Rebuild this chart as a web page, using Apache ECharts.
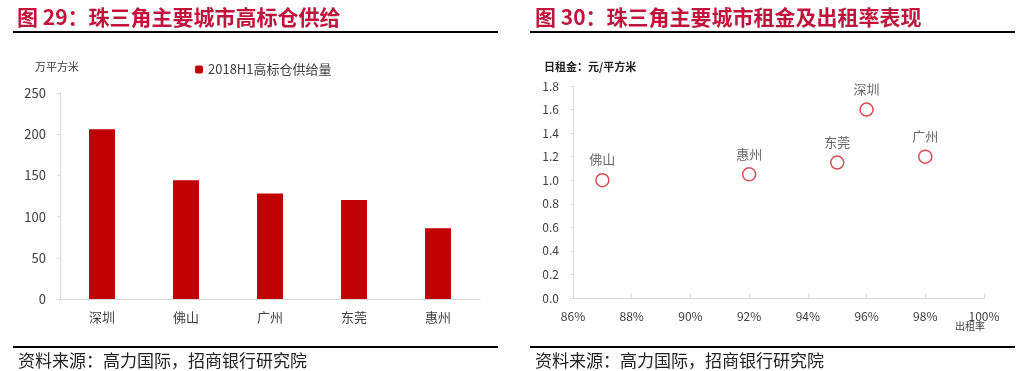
<!DOCTYPE html>
<html><head><meta charset="utf-8">
<script src="https://cdn.jsdelivr.net/npm/echarts@6/dist/echarts.min.js"></script>
<style>html,body{margin:0;padding:0;background:#fff}#c{width:1030px;height:371px}</style>
</head><body><div id="c"></div>
<script>
// Left chart: 2018H1 high-standard warehouse supply
const barCities = ['深圳','佛山','广州','东莞','惠州'];
const barValues = [206, 144, 128, 120, 86];
const barSeriesName = '2018H1高标仓供给量';
const barYTicks = [0, 50, 100, 150, 200, 250];

// Right chart: rent vs occupancy
const scCities = ['佛山','惠州','东莞','深圳','广州'];
const scOccupancy = [87, 92, 95, 96, 98];   // %
const scRent = [1.0, 1.05, 1.15, 1.6, 1.2];  // yuan / sqm / day

const titleL = '图 29：珠三角主要城市高标仓供给';
const titleR = '图 30：珠三角主要城市租金及出租率表现';
const source = '资料来源：高力国际，招商银行研究院';

const FONT = '"Noto Sans CJK SC","Noto Sans",sans-serif';
const RED_T = '#C0143C';
const AX = '#d9d9d9';
const LBL = '#404040';

const chart = echarts.init(document.getElementById('c'), null, {renderer:'canvas'});
chart.setOption({
  backgroundColor:'#fff',
  animation:false,
  textStyle:{fontFamily:FONT},
  legend:{
    left:190, top:58, itemWidth:8, itemHeight:8, itemGap:4,
    textStyle:{fontSize:13, color:LBL, fontFamily:FONT},
    data:[barSeriesName]
  },
  grid:[
    {left:60, right:550, top:93, bottom:72},
    {left:573, right:46, top:86, bottom:73}
  ],
  xAxis:[
    {gridIndex:0, type:'category', data:barCities,
     axisLine:{lineStyle:{color:AX}}, axisTick:{show:false},
     axisLabel:{fontSize:13, color:LBL, margin:12, fontFamily:FONT}},
    {gridIndex:1, type:'value', min:86, max:100, interval:2,
     axisLine:{lineStyle:{color:AX}}, axisTick:{inside:true, length:4, lineStyle:{color:AX}},
     splitLine:{show:false},
     axisLabel:{fontSize:12, color:LBL, margin:12, formatter:v=>v+'%', fontFamily:FONT}}
  ],
  yAxis:[
    {gridIndex:0, type:'value', min:barYTicks[0], max:barYTicks[barYTicks.length-1], interval:50,
     axisLine:{show:true, lineStyle:{color:AX}}, axisTick:{show:true, length:3, lineStyle:{color:AX}},
     splitLine:{show:false},
     axisLabel:{fontSize:13, color:LBL, margin:14, fontFamily:FONT}},
    {gridIndex:1, type:'value', min:0, max:1.8, interval:0.2,
     axisLine:{show:true, lineStyle:{color:AX}}, axisTick:{show:true, length:3, lineStyle:{color:AX}},
     splitLine:{show:false},
     axisLabel:{fontSize:12, color:LBL, margin:14, formatter:v=>v.toFixed(1), fontFamily:FONT}}
  ],
  series:[
    {type:'bar', name:barSeriesName, xAxisIndex:0, yAxisIndex:0, data:barValues,
     barWidth:26, itemStyle:{color:'#C00000'}},
    {type:'scatter', xAxisIndex:1, yAxisIndex:1, symbol:'circle', symbolSize:13,
     itemStyle:{color:'#fff', borderColor:'#D0202A', borderWidth:1.5},
     label:{show:true, position:'top', distance:7, formatter:p=>p.name,
            fontSize:13, color:LBL, fontFamily:FONT},
     data:scCities.map((n,i)=>({name:n, value:[scOccupancy[i], scRent[i]]}))}
  ],
  graphic:[
    {type:'text', left:17, top:7, style:{text:titleL, font:'bold 21px '+FONT, fill:RED_T}},
    {type:'text', left:535, top:7, style:{text:titleR, font:'bold 21px '+FONT, fill:RED_T}},
    {type:'line', shape:{x1:13,y1:32,x2:498,y2:32}, style:{stroke:'#000', lineWidth:2}},
    {type:'line', shape:{x1:530,y1:32,x2:1015,y2:32}, style:{stroke:'#000', lineWidth:2}},
    {type:'line', shape:{x1:13,y1:347,x2:498,y2:347}, style:{stroke:'#000', lineWidth:2}},
    {type:'line', shape:{x1:530,y1:347,x2:1015,y2:347}, style:{stroke:'#000', lineWidth:2}},
    {type:'text', left:18, top:352, style:{text:source, font:'17px '+FONT, fill:'#222'}},
    {type:'text', left:535, top:352, style:{text:source, font:'17px '+FONT, fill:'#222'}},
    {type:'text', left:35, top:61, style:{text:'万平方米', font:'11px '+FONT, fill:LBL}},
    {type:'text', left:544, top:61, style:{text:'日租金：元/平方米', font:'bold 11px '+FONT, fill:'#222'}},
    {type:'text', left:955, top:321, style:{text:'出租率', font:'10px '+FONT, fill:LBL}}
  ]
});
</script></body></html>
